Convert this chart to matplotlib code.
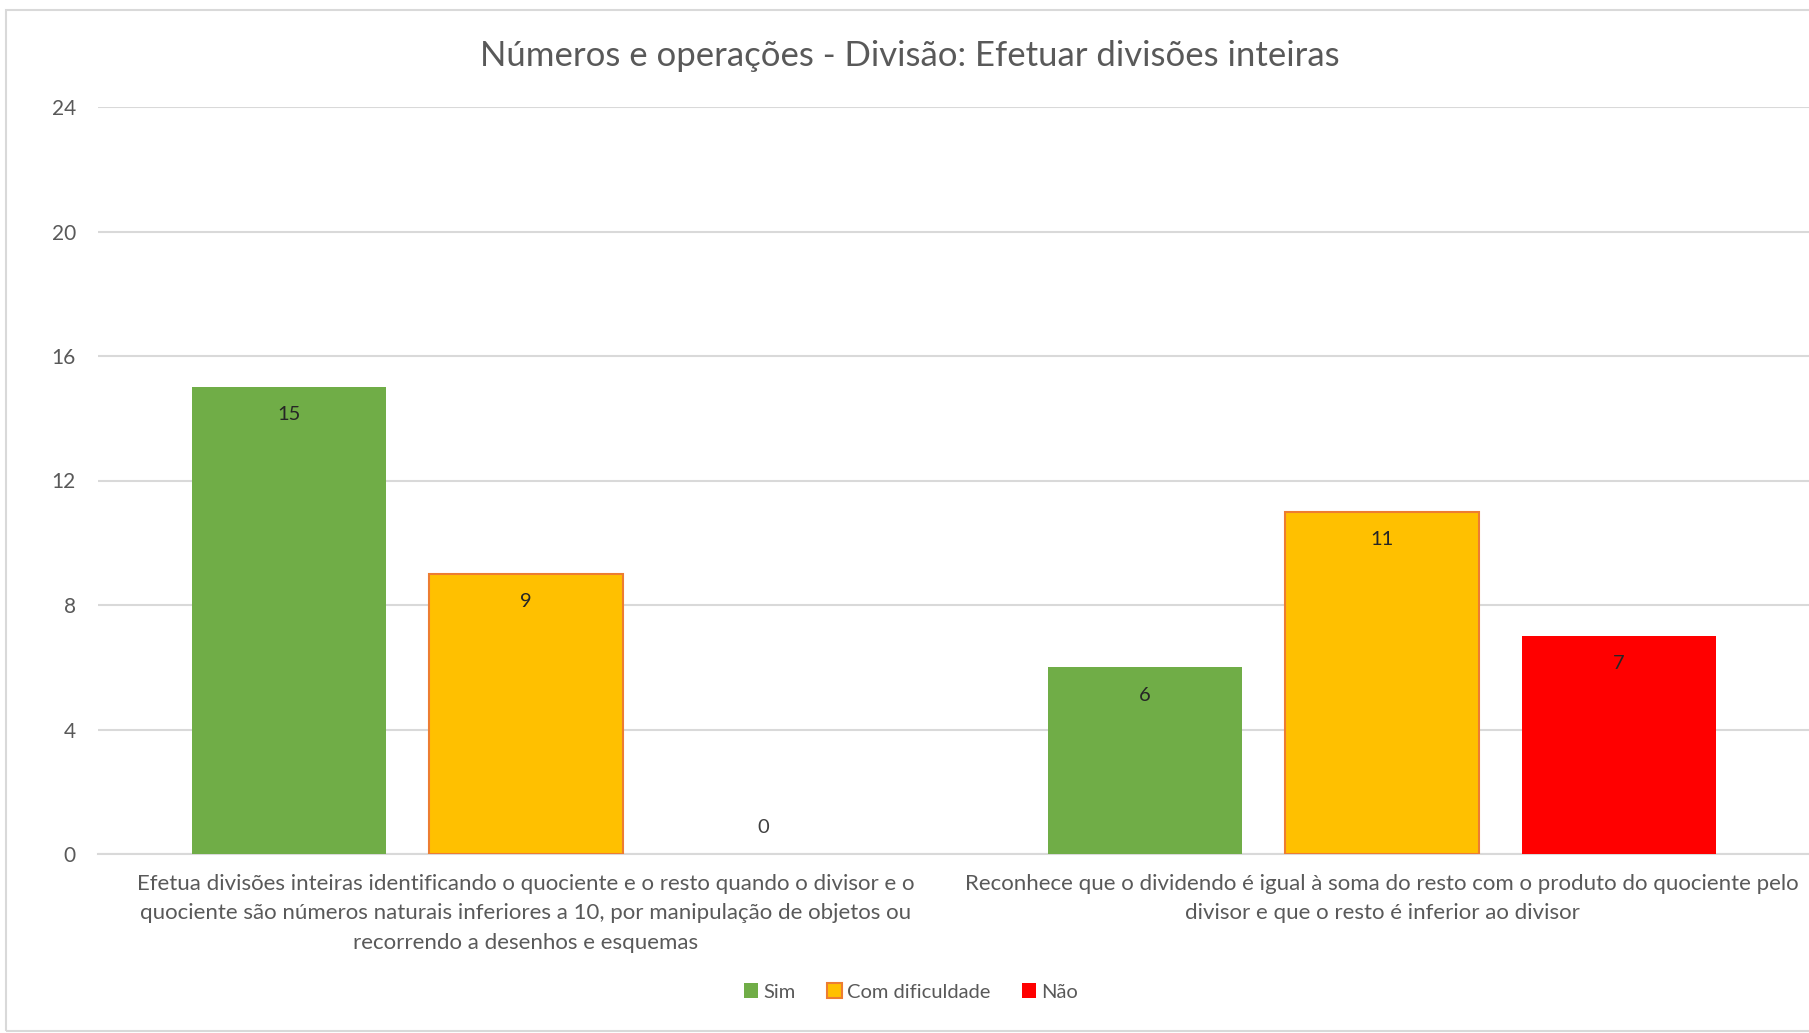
import matplotlib.pyplot as plt
from matplotlib.patches import Rectangle
import numpy as np

plt.rcParams['font.family'] = ['Lato', 'DejaVu Sans']

# dados
categorias = [
    "Efetua divisões inteiras identificando o quociente e o resto quando o divisor e o\n"
    "quociente são números naturais inferiores a 10, por manipulação de objetos ou\n"
    "recorrendo a desenhos e esquemas",
    "Reconhece que o dividendo é igual à soma do resto com o produto do quociente pelo\n"
    "divisor e que o resto é inferior ao divisor",
]
series = ["Sim", "Com dificuldade", "Não"]
sim = [15, 6]
com_dificuldade = [9, 11]
nao = [0, 7]
yticks = [0, 4, 8, 12, 16, 20, 24]

cores = ['#70AD47', '#FFC000', '#FF0000']
bordas = ['#70AD47', '#ED7D31', '#FF0000']
espessura = [0, 1.5, 0]
cinza = '#595959'

fig = plt.figure(figsize=(18.09, 10.33), dpi=100)
W, H = 1809, 1033

# moldura do gráfico (estilo excel)
fig.patches.append(Rectangle((6 / W, 2 / H), 1.2, 1 - 12 / H, transform=fig.transFigure,
                             fill=False, edgecolor='#D9D9D9', linewidth=1.5))

ax = fig.add_axes([98 / W, (H - 854) / H, (1810 - 98) / W, (854 - 107) / H])

x = np.arange(len(categorias))
largura = 0.2266
passo = 0.2768
valores = [sim, com_dificuldade, nao]

barras = []
for i, (nome, vals) in enumerate(zip(series, valores)):
    b = ax.bar(x + (i - 1) * passo, vals, largura, color=cores[i], edgecolor=bordas[i],
               linewidth=espessura[i], label=nome, zorder=3)
    barras.append(b)
    for xi, v in zip(x + (i - 1) * passo, vals):
        if v > 0:
            ax.annotate(str(v), (xi, v), xytext=(0, -20), textcoords='offset points',
                        ha='center', va='center', fontsize=14.5, color='#262626', zorder=4)
        else:
            ax.annotate(str(v), (xi, v), xytext=(0, 19), textcoords='offset points',
                        ha='center', va='center', fontsize=14.5, color='#404040', zorder=4)

ax.set_xlim(-0.5, 1.5)
ax.set_ylim(0, 24)
ax.set_yticks(yticks)
ax.yaxis.grid(True, color='#D9D9D9', linewidth=1.5, zorder=0)
ax.set_axisbelow(True)
for s in ['top', 'right', 'left']:
    ax.spines[s].set_visible(False)
ax.spines['bottom'].set_color('#D9D9D9')
ax.spines['bottom'].set_linewidth(1.5)
ax.tick_params(axis='y', length=0, pad=16, labelsize=15, labelcolor=cinza)
ax.tick_params(axis='x', length=0, pad=14.5)

ax.set_xticks(x)
ax.set_xticklabels(categorias, fontsize=16, color=cinza, linespacing=1.58, va='top')

fig.text(910 / W, 1 - 56 / H, "Números e operações - Divisão: Efetuar divisões inteiras",
         ha='center', va='center', fontsize=25, color=cinza)

fig.legend(handles=barras, labels=series, loc='center', bbox_to_anchor=(911 / W, 1 - 992 / H),
           ncol=3, frameon=False, fontsize=14.5, labelcolor=cinza, handlelength=0.7,
           handleheight=0.7, handletextpad=0.25, columnspacing=1.6)

fig.savefig('out.png', dpi=100)
